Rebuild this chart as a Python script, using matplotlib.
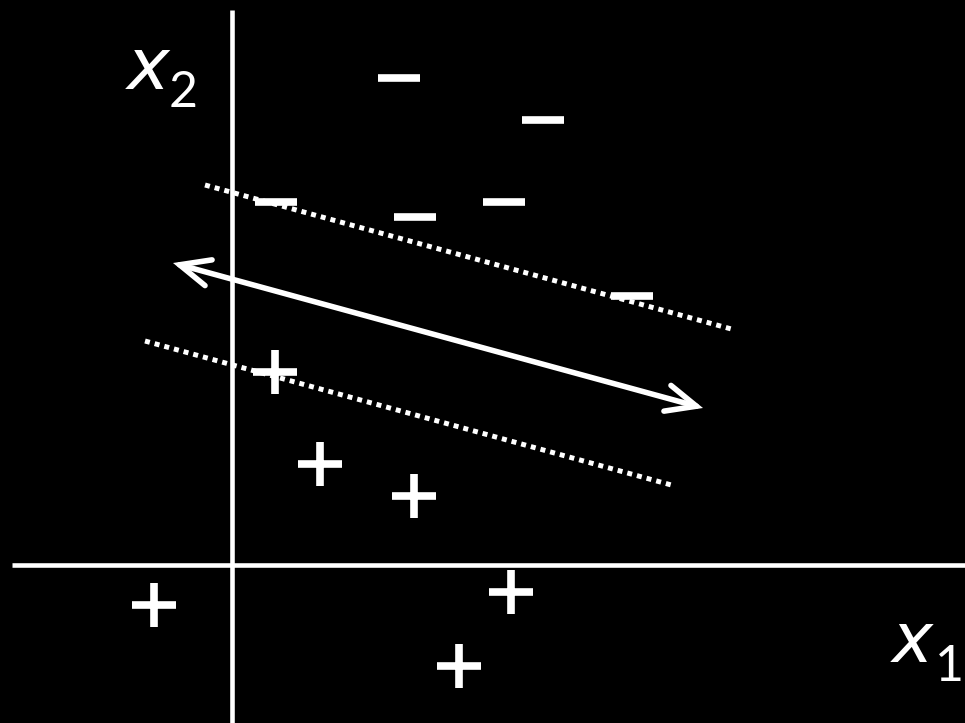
import matplotlib
matplotlib.use("Agg")
import matplotlib.pyplot as plt
from matplotlib.patches import FancyArrowPatch

# data (x1, x2)
minus_x1 = [1.67, 3.11, 0.44, 1.83, 2.72, 4.00]
minus_x2 = [4.87, 4.45, 3.63, 3.48, 3.63, 2.69]
plus_x1 = [0.43, 0.88, 1.82, 2.79, -0.78, 2.27]
plus_x2 = [1.93, 1.01, 0.69, -0.27, -0.40, -1.01]

arrow_x1 = [-0.59, 4.71]
arrow_x2 = [3.02, 1.57]
upper_x1 = [-0.27, 5.03]
upper_x2 = [3.80, 2.35]
lower_x1 = [-0.87, 4.43]
lower_x2 = [2.24, 0.79]

plt.rcParams["mathtext.fontset"] = "dejavusans"

fig = plt.figure(figsize=(9.65, 7.23), dpi=100, facecolor="black")
ax = fig.add_axes([0, 0, 1, 1])
ax.set_facecolor("black")
ax.set_xlim(-2.32, 7.33)
ax.set_ylim(-1.58, 5.65)
ax.axis("off")

# axes lines
ax.plot([0, 0], [-1.6, 5.55], color="white", lw=3.3, solid_capstyle="butt")
ax.plot([-2.20, 7.4], [0, 0], color="white", lw=3.3, solid_capstyle="butt")

# dotted margin lines
for xs, ys in [(upper_x1, upper_x2), (lower_x1, lower_x2)]:
    ax.plot(xs, ys, color="white", lw=3.6, linestyle=(0, (1, 1)), dash_capstyle="butt")

# arrow
arr = FancyArrowPatch((arrow_x1[0], arrow_x2[0]), (arrow_x1[1], arrow_x2[1]),
                      arrowstyle="<->,head_length=0.9,head_width=0.4",
                      mutation_scale=24, color="white", lw=4, shrinkA=0, shrinkB=0,
                      capstyle="round", joinstyle="miter")
ax.add_patch(arr)

# markers
ax.plot(minus_x1, minus_x2, linestyle="none", marker="_", markersize=30, mew=5.5, color="white")
ax.plot(plus_x1, plus_x2, linestyle="none", marker="+", markersize=31, mew=5.5, color="white")

# labels
fam2 = ["Lato", "DejaVu Sans"]
ax.text(0.130, 0.877, r"$x$", transform=ax.transAxes, color="white", fontsize=52,
        ha="left", va="baseline")
ax.text(0.175, 0.852, "2", transform=ax.transAxes, color="white", fontsize=36,
        family=fam2, ha="left", va="baseline")
ax.text(0.922, 0.085, r"$x$", transform=ax.transAxes, color="white", fontsize=50,
        ha="left", va="baseline")
ax.text(0.999, 0.058, "1", transform=ax.transAxes, color="white", fontsize=36,
        family=fam2, ha="right", va="baseline")

fig.savefig("out.png", dpi=100, facecolor="black")
